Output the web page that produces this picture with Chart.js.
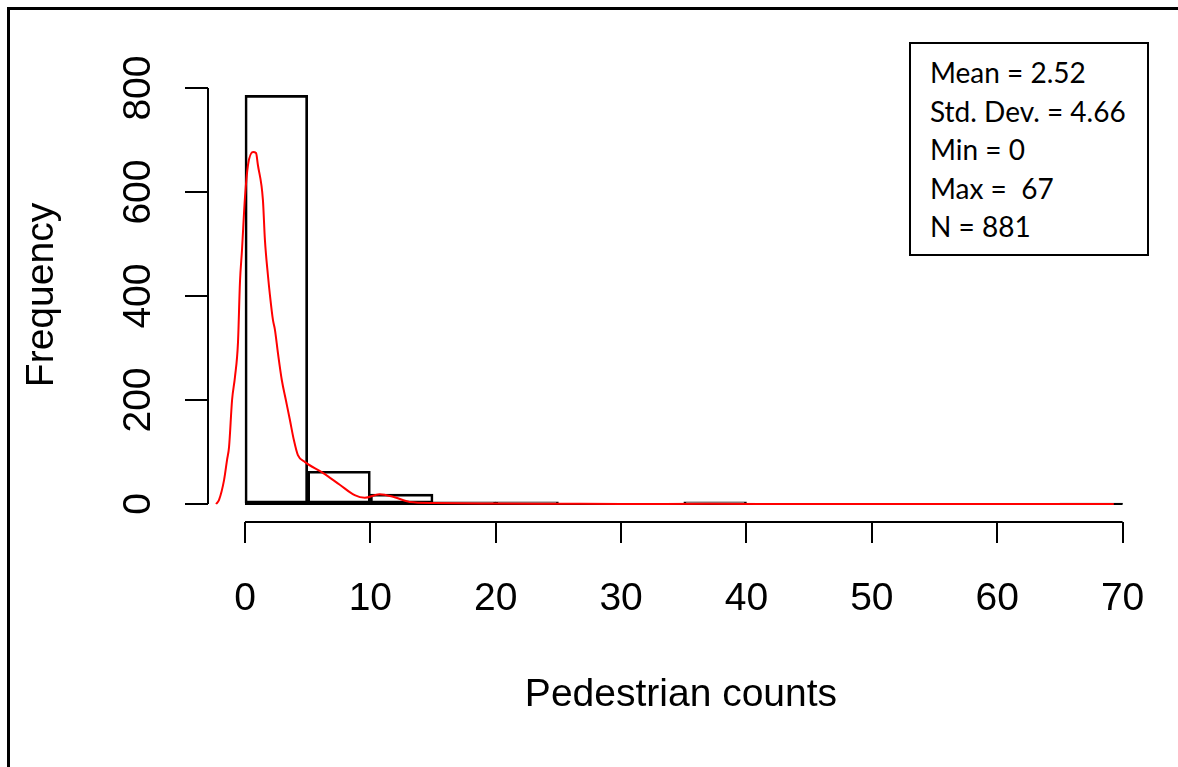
<!DOCTYPE html>
<html>
<head>
<meta charset="utf-8">
<script src="https://cdn.jsdelivr.net/npm/chart.js@4"></script>
<style>
  body { margin: 0; background: #fff; }
  #wrap { position: relative; width: 1178px; height: 767px; overflow: hidden; background: #fff; }
  #frame { position: absolute; left: 7px; top: 7px; width: 1300px; height: 900px; border-left: 3px solid #000; border-top: 3px solid #000; }
  #stats { position: absolute; left: 909px; top: 42px; width: 240px; height: 214px; box-sizing: border-box;
           border: 2px solid #000; background: #fff; padding: 9px 0 0 19px;
           font-family: Lato, "Open Sans", sans-serif; font-size: 28px; line-height: 38.5px; white-space: pre; color: #000; }
  canvas { position: absolute; left: 0; top: 0; }
</style>
</head>
<body>
<div id="wrap">
  <canvas id="chart" width="1178" height="767"></canvas>
  <div id="frame"></div>
  <div id="stats"></div>
</div>
<script>
// histogram bins (Pedestrian counts) and their frequencies
const binEdges = [0, 5, 10, 15, 20, 25, 30, 35, 40, 45, 50, 55, 60, 65, 70];
const binCounts = [786, 63, 19, 4, 4, 0, 0, 4, 0, 0, 0, 0, 0, 1];

// kernel density curve, scaled to frequency
const densityX = [-2.31, -2.07, -1.67, -1.43, -1.27, -1.03, -0.8, -0.56, -0.4, -0.24, 0, 0.24, 0.64, 0.88, 1.03, 1.43,
    1.59, 1.83, 1.99, 2.23, 2.39, 2.63, 2.94, 3.26, 3.58, 3.9, 4.22, 4.77, 6.21, 7.56, 8.75, 9.55, 10.74, 11.93,
    13.13, 15.1, 20, 25, 30, 37, 45, 69.3];
const densityY = [0, 8, 46, 85, 110, 200, 244, 310, 427, 488, 590, 652, 677, 675, 652, 585,
    508, 440, 402, 354, 335, 290, 238, 200, 162, 123, 94, 81, 60, 37, 17, 12, 19, 13,
    4, 2, 1, 0.5, 0, 0.5, 0, 0];

const xTicks = [0, 10, 20, 30, 40, 50, 60, 70];
const yTicks = [0, 200, 400, 600, 800];

const statLines = ["Mean = 2.52", "Std. Dev. = 4.66", "Min = 0", "Max =  67", "N = 881"];

document.getElementById("stats").textContent = statLines.join("\n");

const bars = [];
for (let i = 0; i < binCounts.length; i++) {
    bars.push({ x: (binEdges[i] + binEdges[i + 1]) / 2, y: binCounts[i] });
}
const density = densityX.map((x, i) => ({ x: x, y: densityY[i] }));
const baseline = [
    { x: binEdges[0], y: 0 },
    { x: binEdges[binEdges.length - 1], y: 0 },
];

const axisFont = { family: "'Liberation Sans', Arial, sans-serif", size: 39 };

/* R-style axis lines: only span the first to last tick */
const axisLines = {
    id: "axisLines",
    afterDraw(chart) {
        const { ctx, chartArea, scales } = chart;
        ctx.save();
        ctx.strokeStyle = "#000";
        ctx.lineWidth = 2;
        ctx.beginPath();
        ctx.moveTo(scales.x.getPixelForValue(xTicks[0]), chartArea.bottom);
        ctx.lineTo(scales.x.getPixelForValue(xTicks[xTicks.length - 1]), chartArea.bottom);
        ctx.moveTo(chartArea.left, scales.y.getPixelForValue(yTicks[0]));
        ctx.lineTo(chartArea.left, scales.y.getPixelForValue(yTicks[yTicks.length - 1]));
        ctx.stroke();
        ctx.restore();
    },
};

new Chart(document.getElementById("chart"), {
    type: "bar",
    data: {
        datasets: [
            {
                type: "line",
                label: "density",
                data: density,
                borderColor: "#ff0000",
                borderWidth: 2,
                pointRadius: 0,
                cubicInterpolationMode: "monotone",
                fill: false,
                order: 0,
                clip: false,
            },
            {
                type: "bar",
                label: "Frequency",
                data: bars,
                backgroundColor: "rgba(255,255,255,0)",
                borderColor: "#000",
                borderWidth: 2,
                borderSkipped: false,
                barPercentage: 1,
                categoryPercentage: 1,
                order: 1,
                clip: false,
            },
            {
                type: "line",
                label: "baseline",
                data: baseline,
                borderColor: "#000",
                borderWidth: 2,
                pointRadius: 0,
                order: 2,
            },
        ],
    },
    options: {
        responsive: false,
        animation: false,
        layout: { padding: { top: 68, right: 22, left: 0, bottom: 0 } },
        plugins: { legend: { display: false }, tooltip: { enabled: false } },
        scales: {
            x: {
                type: "linear",
                min: -2.95,
                max: 72.5,
                offset: false,
                afterBuildTicks: (axis) => { axis.ticks = xTicks.map((v) => ({ value: v })); },
                afterFit: (axis) => { axis.height = 245; },
                grid: { offset: false, drawOnChartArea: false, drawTicks: true, tickLength: 21, color: "#000", lineWidth: 2 },
                border: { display: false },
                ticks: { color: "#000", font: axisFont, padding: 33, maxRotation: 0, autoSkip: false },
                title: { display: true, text: "Pedestrian counts", color: "#000", font: axisFont, padding: { top: 0, bottom: 48 } },
            },
            y: {
                type: "linear",
                min: -34.6,
                max: 838.6,
                afterBuildTicks: (axis) => { axis.ticks = yTicks.map((v) => ({ value: v })); },
                afterFit: (axis) => { axis.width = 208; },
                grid: { drawOnChartArea: false, drawTicks: true, tickLength: 23, color: "#000", lineWidth: 2 },
                border: { display: false },
                ticks: { color: "#000", font: axisFont, padding: 13, minRotation: 90, maxRotation: 90, crossAlign: "center", autoSkip: false },
                title: { display: true, text: "Frequency", color: "#000", font: axisFont, padding: { top: 19, bottom: 0 } },
            },
        },
    },
    plugins: [axisLines],
});
</script>
</body>
</html>
